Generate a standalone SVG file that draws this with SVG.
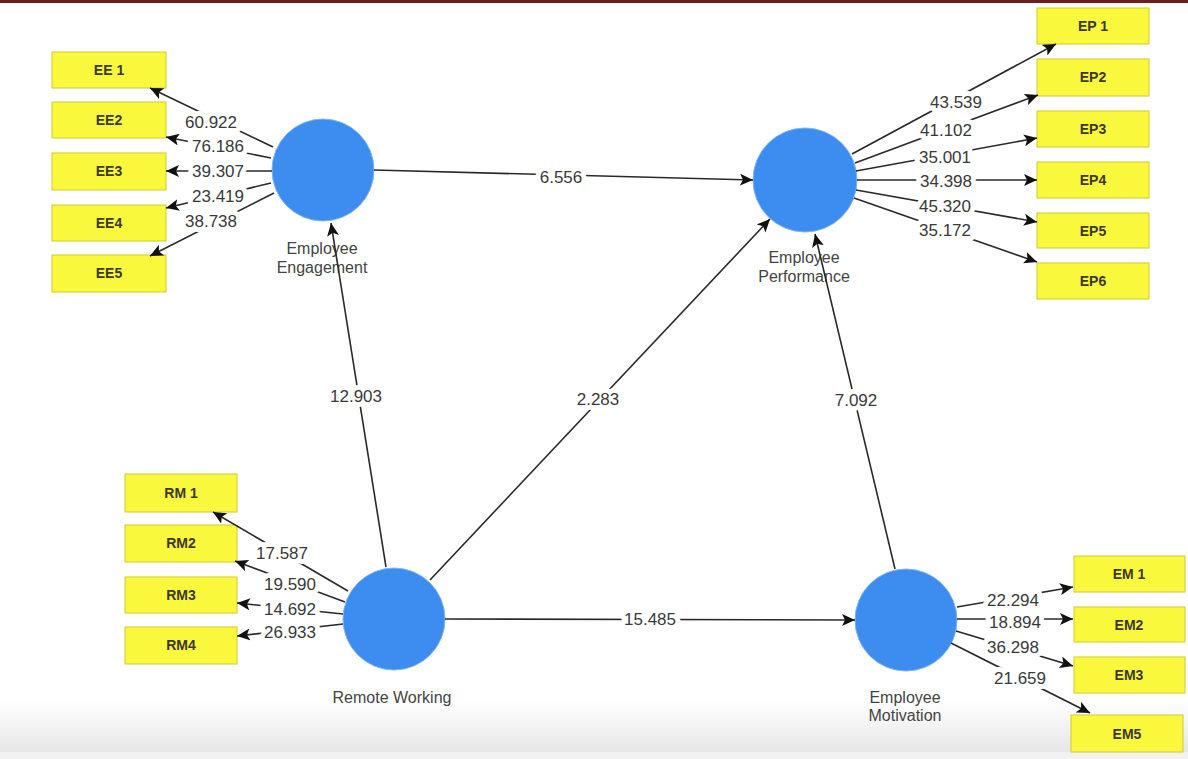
<svg xmlns="http://www.w3.org/2000/svg" width="1188" height="759" viewBox="0 0 1188 759">
<defs>
<marker id="ah" markerUnits="userSpaceOnUse" markerWidth="14" markerHeight="12" refX="13" refY="6" orient="auto">
<path d="M0,0 L13,6 L0,12 L3,6 Z" fill="#111"/>
</marker>
<linearGradient id="bot" x1="0" y1="0" x2="0" y2="1">
<stop offset="0" stop-color="#ffffff"/>
<stop offset="1" stop-color="#e6e6e6"/>
</linearGradient>
<style>
.box{fill:#f9f83c;stroke:#cfcc2a;stroke-width:1}
.bt{font-family:"Liberation Sans",Arial,sans-serif;font-size:14px;font-weight:bold;fill:#3a3a2a;text-anchor:middle}
.lv{fill:#3d8cf0;stroke:#7fb4f5;stroke-width:1}
.nl{font-family:"Liberation Sans",Arial,sans-serif;font-size:16px;fill:#444;text-anchor:middle}
.ln{stroke:#2a2a2a;stroke-width:1.6;fill:none;marker-end:url(#ah)}
.num{font-family:"Liberation Sans",Arial,sans-serif;font-size:17px;fill:#3a3a3a;text-anchor:middle;stroke:#fff;stroke-width:10;paint-order:stroke;stroke-linejoin:round}
</style>
</defs>
<rect width="1188" height="759" fill="#fff"/>
<rect x="0" y="700" width="1188" height="53" fill="url(#bot)"/>
<rect x="0" y="752" width="1188" height="7" fill="#f2f2f2"/>
<rect x="0" y="0" width="1188" height="3" fill="#6e1c1c"/>

<g id="ee-indicators">
<rect class="box" x="52" y="52" width="114" height="36"/><text class="bt" x="109" y="75">EE 1</text>
<rect class="box" x="52" y="102" width="114" height="36"/><text class="bt" x="109" y="125">EE2</text>
<rect class="box" x="52" y="153" width="114" height="37"/><text class="bt" x="109" y="176">EE3</text>
<rect class="box" x="52" y="205" width="114" height="36"/><text class="bt" x="109" y="228">EE4</text>
<rect class="box" x="52" y="255" width="114" height="37"/><text class="bt" x="109" y="278">EE5</text>
</g>
<g id="ep-indicators">
<rect class="box" x="1037" y="8" width="112" height="36"/><text class="bt" x="1093" y="31">EP 1</text>
<rect class="box" x="1037" y="59" width="112" height="37"/><text class="bt" x="1093" y="82">EP2</text>
<rect class="box" x="1037" y="111" width="112" height="36"/><text class="bt" x="1093" y="134">EP3</text>
<rect class="box" x="1037" y="162" width="112" height="36"/><text class="bt" x="1093" y="185">EP4</text>
<rect class="box" x="1037" y="213" width="112" height="35"/><text class="bt" x="1093" y="236">EP5</text>
<rect class="box" x="1037" y="263" width="112" height="36"/><text class="bt" x="1093" y="286">EP6</text>
</g>
<g id="rm-indicators">
<rect class="box" x="125" y="474" width="112" height="38"/><text class="bt" x="181" y="498">RM 1</text>
<rect class="box" x="125" y="525" width="112" height="37"/><text class="bt" x="181" y="548">RM2</text>
<rect class="box" x="125" y="577" width="112" height="36"/><text class="bt" x="181" y="600">RM3</text>
<rect class="box" x="125" y="627" width="112" height="37"/><text class="bt" x="181" y="650">RM4</text>
</g>
<g id="em-indicators">
<rect class="box" x="1074" y="556" width="111" height="36"/><text class="bt" x="1129" y="579">EM 1</text>
<rect class="box" x="1074" y="607" width="111" height="35"/><text class="bt" x="1129" y="630">EM2</text>
<rect class="box" x="1074" y="657" width="111" height="36"/><text class="bt" x="1129" y="680">EM3</text>
<rect class="box" x="1071" y="715" width="112" height="37"/><text class="bt" x="1127" y="739">EM5</text>
</g>

<g id="employee-engagement">
<circle class="lv" cx="323" cy="170" r="51"/>
<text class="nl" x="322" y="254">Employee</text>
<text class="nl" x="322" y="273">Engagement</text>
</g>
<g id="employee-performance">
<circle class="lv" cx="805" cy="180" r="52"/>
<text class="nl" x="804" y="263">Employee</text>
<text class="nl" x="804" y="282">Performance</text>
</g>
<g id="remote-working">
<circle class="lv" cx="394" cy="619" r="51"/>
<text class="nl" x="392" y="703">Remote Working</text>
</g>
<g id="employee-motivation">
<circle class="lv" cx="906" cy="620" r="51"/>
<text class="nl" x="905" y="703">Employee</text>
<text class="nl" x="905" y="721">Motivation</text>
</g>

<g id="connectors">
<line class="ln" x1="273" y1="147" x2="150" y2="88"/>
<line class="ln" x1="271" y1="158" x2="166" y2="137"/>
<line class="ln" x1="272" y1="171" x2="166" y2="171"/>
<line class="ln" x1="271" y1="183" x2="166" y2="208"/>
<line class="ln" x1="274" y1="193" x2="150" y2="256"/>

<line class="ln" x1="852" y1="154" x2="1056" y2="44"/>
<line class="ln" x1="855" y1="163" x2="1038" y2="95"/>
<line class="ln" x1="856" y1="171" x2="1037" y2="138"/>
<line class="ln" x1="857" y1="180" x2="1037" y2="180"/>
<line class="ln" x1="856" y1="190" x2="1037" y2="222"/>
<line class="ln" x1="854" y1="198" x2="1037" y2="262"/>

<line class="ln" x1="348" y1="591" x2="213" y2="512"/>
<line class="ln" x1="345" y1="602" x2="235" y2="561"/>
<line class="ln" x1="343" y1="614" x2="237" y2="603"/>
<line class="ln" x1="343" y1="624" x2="237" y2="636"/>

<line class="ln" x1="957" y1="607" x2="1073" y2="587"/>
<line class="ln" x1="957" y1="619" x2="1073" y2="619"/>
<line class="ln" x1="956" y1="631" x2="1073" y2="666"/>
<line class="ln" x1="951" y1="643" x2="1090" y2="713"/>

<line class="ln" x1="374" y1="170" x2="753" y2="180"/>
<line class="ln" x1="386" y1="567" x2="331" y2="223"/>
<line class="ln" x1="430" y1="580" x2="770" y2="219"/>
<line class="ln" x1="895" y1="569" x2="815" y2="234"/>
<line class="ln" x1="445" y1="619" x2="855" y2="620"/>

<text class="num" x="211" y="128">60.922</text>
<text class="num" x="218" y="152">76.186</text>
<text class="num" x="218" y="177">39.307</text>
<text class="num" x="218" y="202">23.419</text>
<text class="num" x="211" y="227">38.738</text>

<text class="num" x="956" y="108">43.539</text>
<text class="num" x="946" y="136">41.102</text>
<text class="num" x="945" y="163">35.001</text>
<text class="num" x="946" y="187">34.398</text>
<text class="num" x="945" y="212">45.320</text>
<text class="num" x="945" y="236">35.172</text>

<text class="num" x="282" y="559">17.587</text>
<text class="num" x="290" y="590">19.590</text>
<text class="num" x="290" y="615">14.692</text>
<text class="num" x="290" y="638">26.933</text>

<text class="num" x="1013" y="606">22.294</text>
<text class="num" x="1015" y="628">18.894</text>
<text class="num" x="1013" y="653">36.298</text>
<text class="num" x="1020" y="684">21.659</text>

<text class="num" x="561" y="183">6.556</text>
<text class="num" x="356" y="402">12.903</text>
<text class="num" x="598" y="405">2.283</text>
<text class="num" x="856" y="406">7.092</text>
<text class="num" x="650" y="625">15.485</text>
</g>
</svg>
